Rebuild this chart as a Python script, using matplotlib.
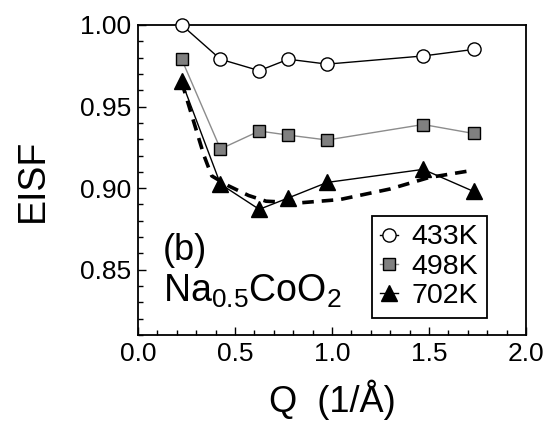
import matplotlib
matplotlib.use("Agg")
import matplotlib.pyplot as plt
from matplotlib.ticker import MultipleLocator

plt.rcParams['font.family'] = ['Liberation Sans', 'DejaVu Sans']

Q = [0.225, 0.425, 0.625, 0.775, 0.975, 1.47, 1.73]
eisf_433 = [1.000, 0.979, 0.972, 0.979, 0.976, 0.981, 0.985]
eisf_498 = [0.979, 0.924, 0.935, 0.9325, 0.9295, 0.939, 0.9335]
eisf_702 = [0.9655, 0.9025, 0.887, 0.894, 0.9035, 0.9115, 0.898]

Q_fit = [0.225, 0.34, 0.38, 0.465, 0.57, 0.66, 0.835, 1.04, 1.30, 1.50, 1.73]
eisf_fit = [0.965, 0.920, 0.9075, 0.9015, 0.8955, 0.892, 0.891, 0.893, 0.8995, 0.9065, 0.911]

labels = ['433K', '498K', '702K']

fig = plt.figure(figsize=(5.51, 4.23), dpi=100)
ax = fig.add_axes([0.2505, 0.208, 0.704, 0.733])

ax.plot(Q_fit, eisf_fit, color='black', lw=2.6, ls=(0, (3.2, 2.2)), zorder=2)
ax.plot(Q, eisf_433, color='black', lw=1.0, marker='o', ms=9.5, mfc='white',
        mec='black', mew=1.0, label=labels[0], zorder=3, clip_on=False)
ax.plot(Q, eisf_498, color='#8c8c8c', lw=1.0, marker='s', ms=9, mfc='#808080',
        mec='black', mew=1.0, label=labels[1], zorder=3)
ax.plot(Q, eisf_702, color='black', lw=1.0, marker='^', ms=12, mfc='black',
        mec='black', mew=1.0, label=labels[2], zorder=4)

ax.set_xlim(0.0, 2.0)
ax.set_ylim(0.81, 1.00)
ax.set_xticks([0.0, 0.5, 1.0, 1.5, 2.0])
ax.set_xticklabels(['0.0', '0.5', '1.0', '1.5', '2.0'])
ax.set_yticks([0.85, 0.90, 0.95, 1.00])
ax.set_yticklabels(['0.85', '0.90', '0.95', '1.00'])
ax.xaxis.set_minor_locator(MultipleLocator(0.1))
ax.yaxis.set_minor_locator(MultipleLocator(0.01))
ax.tick_params(which='both', direction='in', top=False, right=False, width=1.0,
               labelsize=19, pad=5)
ax.tick_params(which='major', length=6)
ax.tick_params(which='minor', length=3.5)
for s in ax.spines.values():
    s.set_linewidth(1.3)

ax.set_xlabel('Q  (1/Å)', fontsize=26, labelpad=10)
ax.set_ylabel('EISF', fontsize=27, labelpad=21)

ax.text(0.065, 0.243, '(b)', transform=ax.transAxes, fontsize=26, va='baseline')
ax.text(0.065, 0.108, r'$\mathregular{Na_{0.5}CoO_2}$', transform=ax.transAxes,
        fontsize=27, va='baseline')

leg = ax.legend(loc='upper left', bbox_to_anchor=(0.603, 0.384), fontsize=20.5,
                frameon=True, fancybox=False, edgecolor='black', framealpha=1,
                handlelength=0.6, handletextpad=0.5, labelspacing=0.12,
                borderpad=0.3, borderaxespad=0)
leg.get_frame().set_linewidth(1.3)

fig.savefig('out.png', dpi=100)
